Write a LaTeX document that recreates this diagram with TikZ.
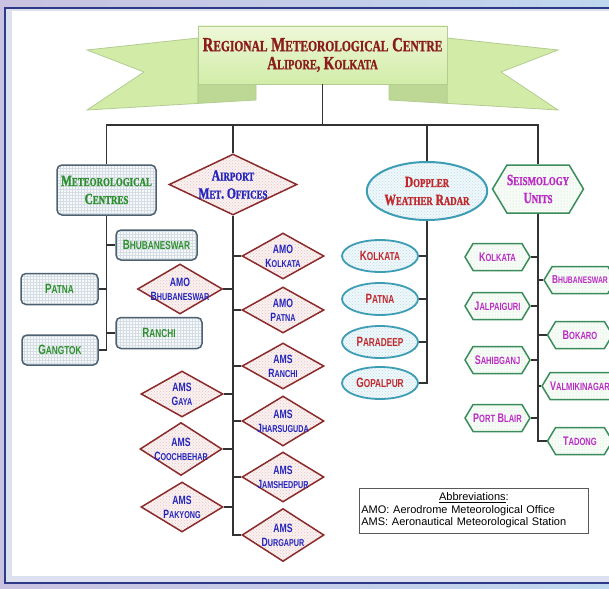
\documentclass[tikz,border=0pt]{standalone}
\usepackage{fontspec}
\setmainfont{Liberation Sans}
\newfontfamily\hfont[FakeStretch=0.74,FakeBold=1.2]{Liberation Serif}
\newfontfamily\ifont[FakeStretch=0.72]{Liberation Sans}
\usetikzlibrary{shapes.geometric,shapes.symbols,patterns}
\newcommand\smcsz{8pt}
\newcommand\smc[1]{{\fontsize{\smcsz}{\smcsz}\selectfont #1}}
\newcommand\fs[2]{#1\smc{#2}}
\definecolor{frameL}{HTML}{C9C2E0}
\definecolor{frameR}{HTML}{BFD8EE}
\definecolor{frameband}{HTML}{DDE0EE}
\definecolor{frameline}{HTML}{2E3A88}
\definecolor{metb}{HTML}{4D6170}
\definecolor{metf}{HTML}{F6F8FA}
\definecolor{metg}{HTML}{D4DDE4}
\definecolor{mett}{HTML}{2E8F2E}
\definecolor{diab}{HTML}{8B2B2B}
\definecolor{diaf}{HTML}{FBF1F1}
\definecolor{diag}{HTML}{E2C4C4}
\definecolor{diat}{HTML}{2424BB}
\definecolor{ellb}{HTML}{3D9DB5}
\definecolor{ellf}{HTML}{EFF8FB}
\definecolor{ellg}{HTML}{BFDCE6}
\definecolor{ellt}{HTML}{C0282C}
\definecolor{hexb}{HTML}{3B8C5C}
\definecolor{hexf}{HTML}{F7FCF7}
\definecolor{hexg}{HTML}{C6E2CC}
\definecolor{hext}{HTML}{BB2CC4}
\definecolor{titlet}{HTML}{8B1C1C}
\definecolor{bnA}{HTML}{EEF8D8}
\definecolor{bnB}{HTML}{D2ECA8}
\definecolor{bnD}{HTML}{B3CC92}
\definecolor{bnF}{HTML}{BCD894}
\tikzset{
  conn/.style={draw=black!80, line width=1.3pt},
  hd/.style={font=\hfont\bfseries\fontsize{15.5}{18}\selectfont\def\smcsz{12pt}, align=center, inner sep=0pt},
  itm/.style={font=\ifont\bfseries\fontsize{13.5}{15}\selectfont\def\smcsz{11.5pt}, align=center, inner sep=0pt},
  itmhex/.style={font=\ifont\bfseries\fontsize{12.5}{13}\selectfont\def\smcsz{10.5pt}, align=center, inner sep=0pt},
  itmdia/.style={font=\ifont\bfseries\fontsize{12}{14}\selectfont\def\smcsz{10pt}, align=center, inner xsep=-16, inner ysep=-8},
  metbox/.style={rectangle, rounded corners=5, draw=metb, line width=1.5, preaction={fill=metf}, pattern=grid, pattern color=metg, text=mett},
  dia/.style={diamond, shape aspect=1.6, draw=diab, line width=1.5, preaction={fill=diaf}, pattern=crosshatch dots, pattern color=diag, text=diat, minimum width=82, minimum height=50},
  ell/.style={ellipse, draw=ellb, line width=1.8, preaction={fill=ellf}, pattern=crosshatch dots, pattern color=ellg, text=ellt, minimum width=76, minimum height=32},
  hex/.style={signal, signal to=west and east, signal pointer angle=118, draw=hexb, line width=1.5, preaction={fill=hexf}, pattern=dots, pattern color=hexg, text=hext, minimum width=65, minimum height=27},
  abbr/.style={rectangle, draw=black!65, line width=0.8, inner xsep=2, inner ysep=0, minimum height=45, text width=225, align=left, font=\fontsize{11}{12.5}\selectfont}
}
\begin{document}
\begin{tikzpicture}[x=1pt,y=-1pt]
\useasboundingbox (0,0) rectangle (609,588);
% frame
\fill[left color=frameL, right color=frameR] (0,0) rectangle (609,588);
\draw[draw=frameline, line width=1.5, fill=frameband] (5,8) rectangle (640,583);
\fill[white] (12,11) rectangle (640,576);
% banner tails
\filldraw[fill=bnB, draw=bnD, line width=0.8] (198,38) -- (87,50) -- (144,72) -- (87,110) -- (198,103.4) -- cycle;
\filldraw[fill=bnB, draw=bnD, line width=0.8] (447,38) -- (558,50) -- (501,72) -- (558,110) -- (447,103.4) -- cycle;
\filldraw[fill=bnF, draw=bnD, line width=0.8] (198,83) -- (256,83) -- (256,100) -- (198,103.4) -- cycle;
\filldraw[fill=bnF, draw=bnD, line width=0.8] (447,83) -- (389,83) -- (389,100) -- (447,103.4) -- cycle;
\node[rectangle, top color=bnA, bottom color=bnB, draw=bnD, line width=0.8, minimum width=249, minimum height=58, align=center, inner sep=0pt, text=titlet,
      font=\hfont\bfseries\fontsize{20}{18}\selectfont\def\smcsz{15.5pt}] (title) at (322.5,55)
  {\fs{R}{EGIONAL} \fs{M}{ETEOROLOGICAL} \fs{C}{ENTRE}\\
   {\fontsize{18.5}{18}\selectfont\def\smcsz{14pt}\fs{A}{LIPORE}, \fs{K}{OLKATA}}};
\coordinate (bus) at (322.5,125);
% headings
\node[metbox, hd, minimum width=99, minimum height=50] (met) at (106.5,190) {\fs{M}{ETEOROLOGICAL}\\\fs{C}{ENTRES}};
\node[dia, hd, shape aspect=2.1, inner xsep=-8, inner ysep=-6, minimum width=128, minimum height=61] (air) at (233,184.5) {\fs{A}{IRPORT}\\\fs{M}{ET}. \fs{O}{FFICES}};
\node[ell, hd, minimum width=100, minimum height=58, line width=2] (dop) at (427,191) {\fs{D}{OPPLER}\\\fs{W}{EATHER} \fs{R}{ADAR}};
\node[hex, hd, minimum width=88, minimum height=48] (sei) at (538,189) {\fs{S}{EISMOLOGY}\\\fs{U}{NITS}};
% main connectors
\draw[conn] (title.south) -- (bus);
\draw[conn] (met.north) -- (met.north |- bus) -- (sei.north |- bus) -- (sei.north);
\draw[conn] (air.north) -- (air.north |- bus);
\draw[conn] (dop.north) -- (dop.north |- bus);
% meteorological centres
\node[metbox, itm, minimum width=81, minimum height=30] (mbhu) at (156.5,245) {\fs{B}{HUBANESWAR}};
\node[metbox, itm, minimum width=77, minimum height=31] (mpat) at (59.5,289) {\fs{P}{ATNA}};
\node[metbox, itm, minimum width=86, minimum height=31] (mran) at (159,333) {\fs{R}{ANCHI}};
\node[metbox, itm, minimum width=76, minimum height=30] (mgan) at (60,350) {\fs{G}{ANGTOK}};
\foreach \n/\a in {mbhu/west, mpat/east, mran/west, mgan/east}
  \draw[conn] (met.south) |- (\n.\a);
% airport met offices
\node[dia, itmdia, minimum height=46] (akol) at (283,256) {AMO\\\fs{K}{OLKATA}};
\node[dia, itmdia, minimum width=85] (abhu) at (180,289) {AMO\\\fs{B}{HUBANESWAR}};
\node[dia, itmdia, minimum height=46] (apat) at (283,310) {AMO\\\fs{P}{ATNA}};
\node[dia, itmdia, minimum height=46] (aran) at (283,366) {AMS\\\fs{R}{ANCHI}};
\node[dia, itmdia, minimum height=46] (agay) at (182,394) {AMS\\\fs{G}{AYA}};
\node[dia, itmdia] (ajha) at (283,421) {AMS\\\fs{J}{HARSUGUDA}};
\node[dia, itmdia, minimum height=53] (acoo) at (181,449) {AMS\\\fs{C}{OOCHBEHAR}};
\node[dia, itmdia] (ajam) at (283,477) {AMS\\\fs{J}{AMSHEDPUR}};
\node[dia, itmdia] (apak) at (182,507) {AMS\\\fs{P}{AKYONG}};
\node[dia, itmdia, minimum height=53] (adur) at (283,535) {AMS\\\fs{D}{URGAPUR}};
\foreach \n/\a in {akol/west, abhu/east, apat/west, aran/west, agay/east, ajha/west, acoo/east, ajam/west, apak/east, adur/west}
  \draw[conn] (air.south) |- (\n.\a);
% doppler weather radar
\node[ell, itm] (dkol) at (380,256) {\fs{K}{OLKATA}};
\node[ell, itm] (dpat) at (380,299) {\fs{P}{ATNA}};
\node[ell, itm] (dpar) at (380,342) {\fs{P}{ARADEEP}};
\node[ell, itm] (dgop) at (380,383) {\fs{G}{OPALPUR}};
\foreach \n in {dkol, dpat, dpar, dgop}
  \draw[conn] (dop.south) |- (\n.east);
% seismology units
\node[hex, itmhex] (skol) at (497.5,257) {\fs{K}{OLKATA}};
\node[hex, itmhex] (sjal) at (497.5,306) {\fs{J}{ALPAIGURI}};
\node[hex, itmhex] (ssah) at (497.5,360) {\fs{S}{AHIBGANJ}};
\node[hex, itmhex] (spor) at (497.5,418) {\fs{P}{ORT} \fs{B}{LAIR}};
\node[hex, itmhex, font=\ifont\bfseries\fontsize{11.5}{13}\selectfont\def\smcsz{9.5pt}] (sbhu) at (580,280) {\fs{B}{HUBANESWAR}};
\node[hex, itmhex] (sbok) at (580,335) {\fs{B}{OKARO}};
\node[hex, itmhex] (sval) at (580,386) {\fs{V}{ALMIKINAGAR}};
\node[hex, itmhex] (stad) at (580,441) {\fs{T}{ADONG}};
\foreach \n in {skol, sjal, ssah, spor}
  \draw[conn] (sei.south) |- (\n.east);
\foreach \n in {sbhu, sbok, sval, stad}
  \draw[conn] (sei.south) |- (\n.west);
% abbreviations
\node[abbr, anchor=west] (abbr) at (359,510.5)
  {\makebox[225pt][c]{\underline{Abbreviations}:}\\
   AMO: Aerodrome Meteorological Office\\
   AMS: Aeronautical Meteorological Station};
\end{tikzpicture}
\end{document}
